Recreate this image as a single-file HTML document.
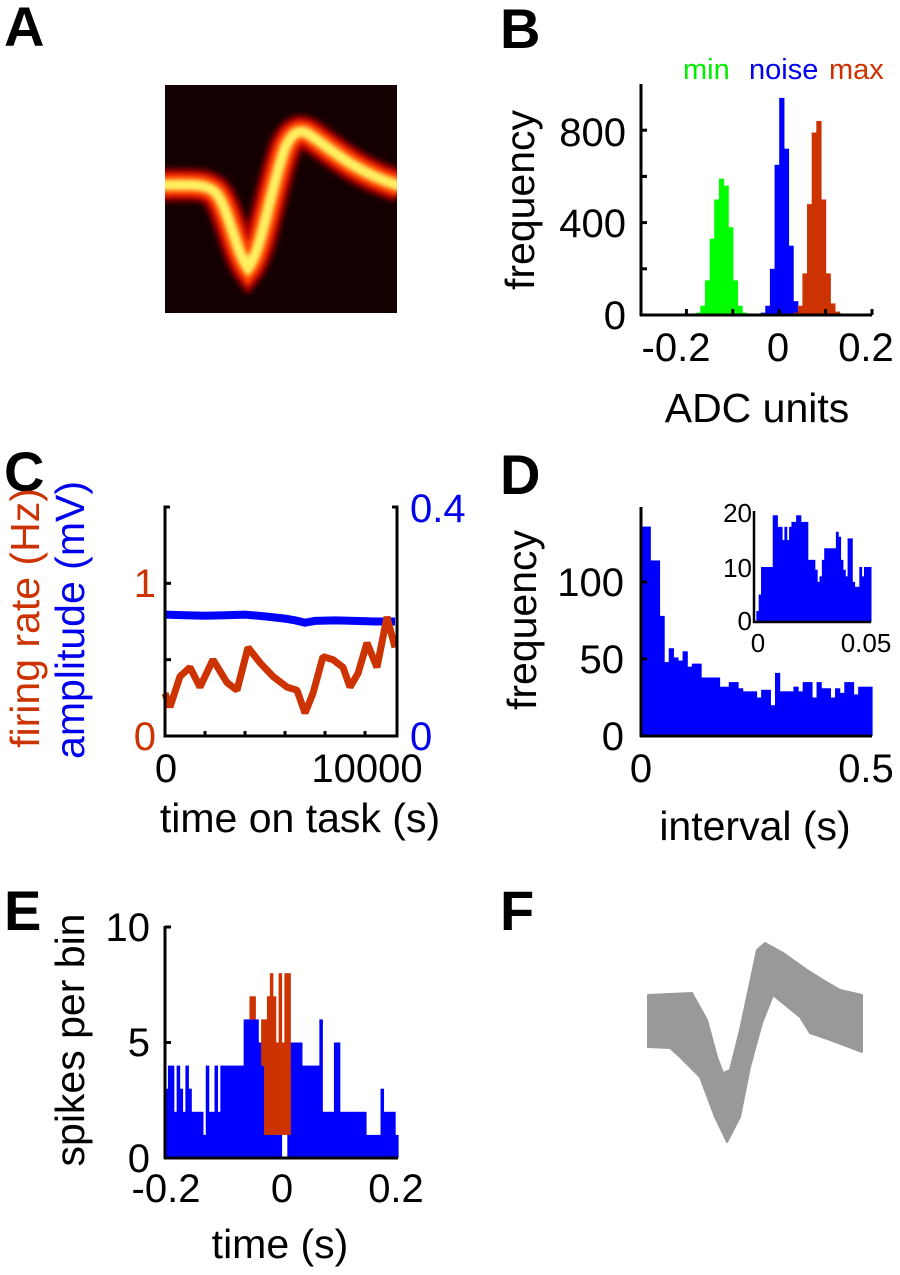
<!DOCTYPE html>
<html><head><meta charset="utf-8"><style>
html,body{margin:0;padding:0;background:#fff;}
svg{display:block;font-family:"Liberation Sans",Arial,sans-serif;}
</style></head><body>
<svg id="fig" xmlns="http://www.w3.org/2000/svg" width="900" height="1275" viewBox="0 0 900 1275">
<defs>
<filter id="blur3" x="-20%" y="-20%" width="140%" height="140%"><feGaussianBlur stdDeviation="3"/></filter>
<filter id="blur2" x="-20%" y="-20%" width="140%" height="140%"><feGaussianBlur stdDeviation="2"/></filter>
</defs>
<g font-weight="bold" font-size="56" fill="#000">
<text x="4" y="46">A</text>
<text x="500" y="48">B</text>
<text x="4" y="491">C</text>
<text x="500" y="494">D</text>
<text x="4" y="930">E</text>
<text x="500" y="930">F</text>
</g>
<!-- Panel A -->
<g>
<rect x="165" y="85" width="232" height="228" fill="#140000"/>
<clipPath id="clipA"><rect x="165" y="85" width="232" height="228"/></clipPath>
<g clip-path="url(#clipA)" fill="none" stroke-linecap="butt">
<path d="M160,185 C190,185 205,183 215,192 C228,205 235,250 248,268 C262,250 270,190 285,148 C292,132 300,128 310,135 C335,152 355,172 400,186" stroke="#b00000" stroke-width="32" filter="url(#blur3)"/>
<path d="M160,185 C190,185 205,183 215,192 C228,205 235,250 248,268 C262,250 270,190 285,148 C292,132 300,128 310,135 C335,152 355,172 400,186" stroke="#ff4000" stroke-width="22" filter="url(#blur2)"/>
<path d="M160,185 C190,185 205,183 215,192 C228,205 235,250 248,268 C262,250 270,190 285,148 C292,132 300,128 310,135 C335,152 355,172 400,186" stroke="#fff060" stroke-width="11" filter="url(#blur2)"/>
</g>
</g>
<!-- Panel B -->
<g id="panelB">
<g font-size="29">
<text x="683" y="79" fill="#00ee00">min</text>
<text x="749" y="79" fill="#0000ee">noise</text>
<text x="829" y="79" fill="#cc3300">max</text>
</g>
<g id="histB"></g>
<line x1="640" y1="315" x2="872" y2="315" stroke="#000" stroke-width="3"/>
<line x1="641" y1="84" x2="641" y2="316" stroke="#000" stroke-width="3"/>
<g id="ticksB"></g>
<g font-size="40" text-anchor="end">
<text x="626" y="146">800</text>
<text x="626" y="237">400</text>
<text x="626" y="329">0</text>
</g>
<g font-size="40" text-anchor="middle">
<text x="676" y="361">-0.2</text>
<text x="778" y="361">0</text>
<text x="866" y="361">0.2</text>
<text x="757" y="422" font-size="41">ADC units</text>
<text transform="translate(534,200) rotate(-90)" font-size="41">frequency</text>
</g>
</g>
<!-- Panel C -->
<g id="panelC">
<g id="linesC"></g>
<path d="M170,507 H165 V736 H397 V507 H392" fill="none" stroke="#000" stroke-width="3"/>
<g id="ticksC"></g>
<g font-size="40">
<text x="156" y="597" text-anchor="end" fill="#cc3300">1</text>
<text x="156" y="750" text-anchor="end" fill="#cc3300">0</text>
<text x="410" y="522" fill="#0000ee">0.4</text>
<text x="410" y="750" fill="#0000ee">0</text>
<text x="166" y="782" text-anchor="middle">0</text>
<text x="367" y="782" text-anchor="middle">10000</text>
<text x="300" y="832" text-anchor="middle" font-size="41">time on task (s)</text>
<text transform="translate(39,618) rotate(-90)" text-anchor="middle" font-size="41" fill="#cc3300">firing rate (Hz)</text>
<text transform="translate(84,620) rotate(-90)" text-anchor="middle" font-size="41" fill="#0000ee">amplitude (mV)</text>
</g>
</g>
<!-- Panel D -->
<g id="panelD">
<g id="histD"></g>
<line x1="641" y1="507" x2="641" y2="737" stroke="#000" stroke-width="3"/>
<line x1="640" y1="736" x2="872" y2="736" stroke="#000" stroke-width="3"/>
<g id="ticksD"></g>
<g font-size="40">
<text x="624" y="596" text-anchor="end">100</text>
<text x="624" y="673" text-anchor="end">50</text>
<text x="624" y="750" text-anchor="end">0</text>
<text x="641" y="782" text-anchor="middle">0</text>
<text x="866" y="782" text-anchor="middle">0.5</text>
<text x="755" y="840" text-anchor="middle" font-size="41">interval (s)</text>
<text transform="translate(536,620) rotate(-90)" text-anchor="middle" font-size="41">frequency</text>
</g>
<g id="histInset"></g>
<line x1="754" y1="511" x2="754" y2="623" stroke="#000" stroke-width="2.5"/>
<line x1="753" y1="622" x2="871" y2="622" stroke="#000" stroke-width="2.5"/>
<g font-size="26">
<text x="752" y="522" text-anchor="end">20</text>
<text x="752" y="577" text-anchor="end">10</text>
<text x="752" y="630" text-anchor="end">0</text>
<text x="758" y="652" text-anchor="middle">0</text>
<text x="866" y="652" text-anchor="middle">0.05</text>
</g>
</g>
<!-- Panel E -->
<g id="panelE">
<g id="histE"></g>
<line x1="165" y1="926" x2="165" y2="1159" stroke="#000" stroke-width="3"/>
<line x1="164" y1="1158" x2="398" y2="1158" stroke="#000" stroke-width="3"/>
<g id="ticksE"></g>
<g font-size="40">
<text x="150" y="941" text-anchor="end">10</text>
<text x="150" y="1056" text-anchor="end">5</text>
<text x="150" y="1172" text-anchor="end">0</text>
<text x="166" y="1202" text-anchor="middle">-0.2</text>
<text x="282" y="1202" text-anchor="middle">0</text>
<text x="396" y="1202" text-anchor="middle">0.2</text>
<text x="280" y="1258" text-anchor="middle" font-size="41">time (s)</text>
<text transform="translate(84,1040) rotate(-90)" text-anchor="middle" font-size="41">spikes per bin</text>
</g>
</g>
<!-- Panel F -->
<g>
<path d="M648,995 L692,993 L707,1020 L717,1057 L723,1073 L730,1070 L740,1030 L757,950 L765,943 L783,953 L807,970 L823,980 L840,990 L862,995 L862,1052 L830,1040 L810,1033 L800,1017 L773,995 L762,1023 L750,1067 L740,1117 L727,1142 L715,1117 L700,1077 L680,1057 L670,1048 L648,1047 Z" fill="#999999" stroke="#999999" stroke-width="2" stroke-linejoin="round"/>
</g>
</svg>
<script>
// ---- Panel B data ----
const bMinCenters = [-0.175,-0.165,-0.155,-0.145,-0.135,-0.125,-0.115,-0.105,-0.095,-0.085,-0.075];
const bMinCounts  = [10,40,150,330,500,590,560,380,150,40,10];
const bNoiseCenters = [-0.035,-0.025,-0.015,-0.005,0.005,0.015,0.025,0.035,0.045];
const bNoiseCounts  = [10,40,200,650,940,720,300,60,10];
const bMaxCenters = [0.035,0.045,0.055,0.065,0.075,0.085,0.095,0.105,0.115,0.125,0.135];
const bMaxCounts  = [10,40,180,480,790,840,500,180,50,15,5];
const bXTicks = [-0.2,-0.1,0,0.1,0.2];
const bYTicks = [0,200,400,600,800];
// ---- Panel C data ----
const cRateTimes = [0,250,750,1250,1750,2400,3100,3600,4150,4750,5400,6100,6600,7000,7400,7900,8400,8900,9250,9650,10100,10600,11100,11500];
const cRateValues = [0.28,0.19,0.39,0.45,0.32,0.50,0.35,0.30,0.58,0.48,0.39,0.32,0.30,0.15,0.28,0.52,0.50,0.45,0.32,0.41,0.61,0.45,0.78,0.58];
const cAmpTimes = [0,1000,2000,3000,4000,5000,6000,6500,7000,7500,8500,9500,10500,11500];
const cAmpValues = [0.212,0.211,0.210,0.211,0.212,0.209,0.205,0.202,0.198,0.201,0.202,0.201,0.200,0.200];
const cXTicks = [0,2000,4000,6000,8000,10000];
const cYTicks = [0,0.5,1];
// ---- Panel D data ----
const dCounts = [136,136,114,114,78,48,57,51,49,55,45,47,47,38,38,38,38,32,32,35,35,31,29,29,29,25,30,30,20,41,29,29,29,32,29,35,35,25,35,31,31,25,31,28,35,35,27,32,32,32];
const dInsetCounts = [0,2,5,10,10,10,10,10,19.4,19.4,17.3,17.3,14.9,17.3,14.9,17.3,18.2,18.2,19.4,19.4,18.2,18.2,18.2,11.3,11.3,11.3,9.5,7.3,8.3,11.3,13.4,13.4,13.4,13.4,13.4,16.4,15.5,11.3,9.5,8.3,15.2,15.2,7.3,6.4,6.4,10,8.3,10,10,10];
const dYTicks = [0,50,100];
// ---- Panel E data ----
const eBlue = [3,4,4,2,4,3,2,4,3,2, 2,2,2,1,4,2,2,4,2,4, 4,4,4,4,4,4,4,6,6,6, 6,6,5,4,4,2,2,2,1,1, 0,0,5,5,5,5,5,4,4,4, 4,4,4,6,2,2,2,2,5,5, 2,2,2,2,2,2,2,2,2,1, 1,1,1,1,3,2,2,2,2,1];
const eRed  = [0,0,0,0,0,0,0,0,0,0, 0,0,0,0,0,0,0,0,0,0, 0,0,0,0,0,0,0,0,0,7, 7,0,0,6,6,7,8,7,5,8, 5,8,8,0,0,0,0,0,0,0, 0,0,0,0,0,0,0,0,0,0, 0,0,0,0,0,0,0,0,0,0, 0,0,0,0,0,0,0,0,0,0];
const eYTicks = [0,5,10];

const NS = 'http://www.w3.org/2000/svg';
function lin(d0,d1,r0,r1){return v => r0 + (v-d0)/(d1-d0)*(r1-r0);}
function el(tag, parent, attrs){const e=document.createElementNS(NS,tag);for(const k in attrs)e.setAttribute(k,attrs[k]);parent.appendChild(e);return e;}

// Panel B
(function(){
  const x = lin(-0.3,0.2,640,872), y = lin(0,1000,315,84);
  const g = document.getElementById('histB');
  const series = [[bMinCenters,bMinCounts,'#00ff00','min'],[bNoiseCenters,bNoiseCounts,'#0000ff','noise'],[bMaxCenters,bMaxCounts,'#cc3300','max']];
  series.forEach(s => {
    s[0].forEach((c,i) => {
      const x0 = x(c-0.005), x1 = x(c+0.005);
      const r = el('rect', g, {x:x0, y:y(s[1][i]), width:x1-x0+0.6, height:315-y(s[1][i]), fill:s[2]});
      
      
    });
  });
  const t = document.getElementById('ticksB');
  bXTicks.forEach(v => { const l = el('line', t, {x1:x(v),x2:x(v),y1:315,y2:309,stroke:'#000','stroke-width':3});
      });
  bYTicks.forEach(v => { const l = el('line', t, {x1:641,x2:647,y1:y(v),y2:y(v),stroke:'#000','stroke-width':3});
      });
})();

// Panel C
(function(){
  const x = lin(0,11600,165,397), yl = lin(0,1.5,736,507), yr = lin(0,0.4,736,507);
  const g = document.getElementById('linesC');
  let d = '';
  cAmpTimes.forEach((t,i)=>{ d += (i?'L':'M') + x(t) + ',' + yr(cAmpValues[i]); });
  const a = el('path', g, {d:d, fill:'none', stroke:'#0000ff','stroke-width':8});
  
  
  d = '';
  cRateTimes.forEach((t,i)=>{ d += (i?'L':'M') + x(t) + ',' + yl(cRateValues[i]); });
  const r = el('path', g, {d:d, fill:'none', stroke:'#cc3300','stroke-width':7,'stroke-linejoin':'bevel'});
  
  
  const tk = document.getElementById('ticksC');
  cXTicks.forEach(v => { const l = el('line', tk, {x1:x(v),x2:x(v),y1:736,y2:731,stroke:'#000','stroke-width':3});
      });
  cYTicks.forEach(v => { const l = el('line', tk, {x1:165,x2:171,y1:yl(v),y2:yl(v),stroke:'#000','stroke-width':3});
      });
})();

// Panel D
(function(){
  const x = lin(0,0.5,641,872), y = lin(0,150,736,505);
  const g = document.getElementById('histD');
  dCounts.forEach((c,i) => {
    const x0 = x(i*0.01), x1 = x((i+1)*0.01);
    const r = el('rect', g, {x:x0, y:y(c), width:x1-x0+0.6, height:736-y(c), fill:'#0000ff'});
    
    
  });
  const tk = document.getElementById('ticksD');
  dYTicks.forEach(v => { const l = el('line', tk, {x1:641,x2:647,y1:y(v),y2:y(v),stroke:'#000','stroke-width':3});
      });
  const xi = lin(0,0.05,754,871), yi = lin(0,20,622,512);
  const gi = document.getElementById('histInset');
  dInsetCounts.forEach((c,i) => {
    const x0 = xi(i*0.001), x1 = xi((i+1)*0.001);
    const r = el('rect', gi, {x:x0, y:yi(c), width:x1-x0+0.5, height:622-yi(c), fill:'#0000ff'});
    
    
  });
})();

// Panel E
(function(){
  const x = lin(-0.2,0.2,165,398), y = lin(0,10,1158,927);
  const g = document.getElementById('histE');
  const w = 0.005;
  eBlue.forEach((c,i) => {
    const x0 = x(-0.2+i*w), x1 = x(-0.2+(i+1)*w);
    const r = el('rect', g, {x:x0, y:y(c), width:x1-x0+0.6, height:1158-y(c), fill:'#0000ff'});
    
    
  });
  eRed.forEach((c,i) => {
    if (!c) return;
    const x0 = x(-0.2+i*w), x1 = x(-0.2+(i+1)*w);
    const base = eBlue[i] > 0 && eBlue[i] < c && (i<34 || i>42) ? y(eBlue[i]) : y(1);
    const r = el('rect', g, {x:x0, y:y(c), width:x1-x0+0.6, height:base-y(c), fill:'#cc3300'});
    
    
  });
  const tk = document.getElementById('ticksE');
  eYTicks.forEach(v => { const l = el('line', tk, {x1:165,x2:171,y1:y(v),y2:y(v),stroke:'#000','stroke-width':3});
      });
})();
</script>
</body></html>
